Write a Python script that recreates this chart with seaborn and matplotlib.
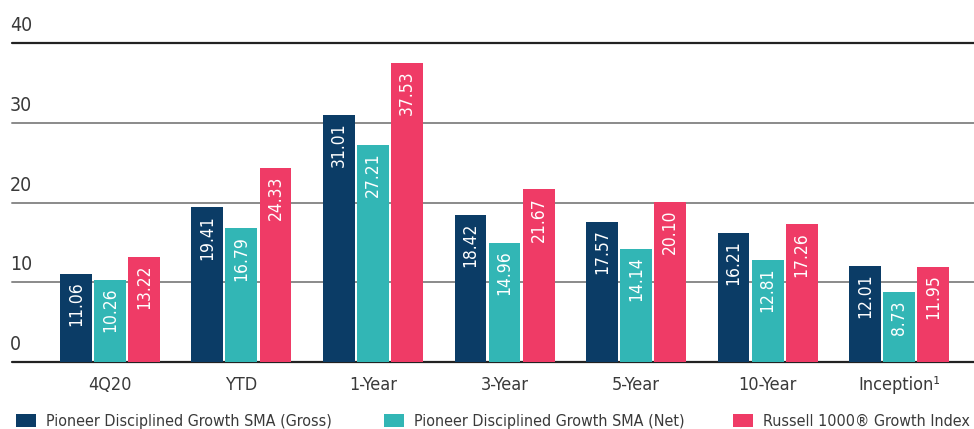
import matplotlib
matplotlib.use("Agg")
import matplotlib.pyplot as plt
import seaborn as sns
import pandas as pd
from matplotlib.patches import Patch
import matplotlib.transforms as mtransforms

categories = ["4Q20", "YTD", "1-Year", "3-Year", "5-Year", "10-Year", "Inception\u00b9"]
series_names = ["Pioneer Disciplined Growth SMA (Gross)",
                "Pioneer Disciplined Growth SMA (Net)",
                "Russell 1000\u00ae Growth Index"]
gross = [11.06, 19.41, 31.01, 18.42, 17.57, 16.21, 12.01]
net = [10.26, 16.79, 27.21, 14.96, 14.14, 12.81, 8.73]
index_vals = [13.22, 24.33, 37.53, 21.67, 20.10, 17.26, 11.95]
y_ticks = [0, 10, 20, 30, 40]
colors = ["#0b3c66", "#32b6b5", "#ef3b66"]

sns.set_theme(style="white")
plt.rcParams["font.family"] = ["DejaVu Sans"]
plt.rcParams["font.stretch"] = "condensed"

rows = []
for name, vals in zip(series_names, [gross, net, index_vals]):
    for c, v in zip(categories, vals):
        rows.append({"cat": c, "series": name, "value": v})
df = pd.DataFrame(rows)

fig = plt.figure(figsize=(9.74, 4.29), dpi=100)
W, H = 974, 429
ax = fig.add_axes([12 / W, (H - 362) / H, (W - 12) / W, (362 - 43) / H])

sns.barplot(data=df, x="cat", y="value", hue="series", order=categories,
            hue_order=series_names, palette=colors, saturation=1,
            width=0.776, gap=0.06, ax=ax, legend=False, errorbar=None,
            linewidth=0, edgecolor="none")

ax.set_ylim(0, 40)
ax.set_xlim(-0.745, 6.57)
for s in ax.spines.values():
    s.set_visible(False)
ax.set_xlabel("")
ax.set_ylabel("")
ax.set_yticks([])
ax.tick_params(axis="x", length=0, pad=10, labelsize=13, labelcolor="#3a3a3a")

blend = mtransforms.blended_transform_factory(ax.transAxes, ax.transData)
for t in y_ticks:
    col = "#222222" if t in (0, 40) else "#8a8a8a"
    lw = 1.6 if t in (0, 40) else 1.4
    ax.axhline(t, color=col, lw=lw, zorder=0, clip_on=False)
    ax.text(-2 / (W - 12), t + 1.0, str(t), transform=blend,
            ha="left", va="bottom", fontsize=14, color="#3a3a3a")

for cont, vals in zip(ax.containers, [gross, net, index_vals]):
    for bar, v in zip(cont, vals):
        ax.annotate(f"{v:.2f}", xy=(bar.get_x() + bar.get_width() / 2, bar.get_height()),
                    xytext=(0, -5.5), textcoords="offset points", rotation=90,
                    ha="center", va="top", color="white", fontsize=12.5)

legend_x = [16, 384, 733]
for name, c, lx in zip(series_names, colors, legend_x):
    fig.legend([Patch(facecolor=c, edgecolor="none")], [name], loc="lower left",
               bbox_to_anchor=(lx / W, 0.0), frameon=False, fontsize=11.5,
               handlelength=1.25, handleheight=0.95, handletextpad=0.62,
               labelcolor="#3a3a3a", borderaxespad=0.0, borderpad=0.0)

fig.savefig("out.png", dpi=100)
